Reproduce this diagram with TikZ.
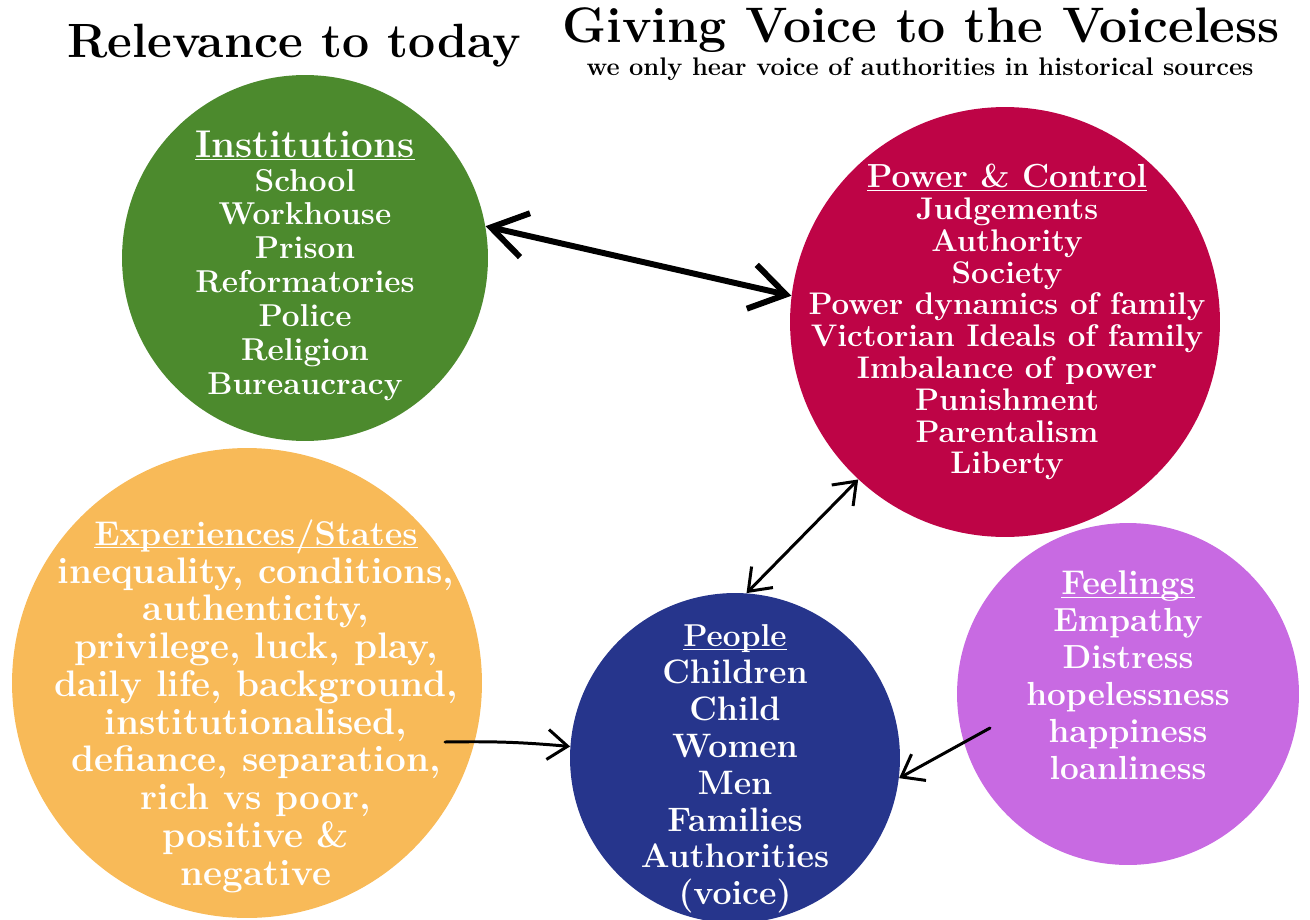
\documentclass[tikz,border=0pt]{standalone}
\usepackage{fontspec}
\usetikzlibrary{arrows.meta}

\definecolor{instgreen}{RGB}{76,138,45}
\definecolor{powerred}{RGB}{190,4,70}
\definecolor{experorange}{RGB}{248,186,88}
\definecolor{peopleblue}{RGB}{38,53,140}
\definecolor{feelpurple}{RGB}{200,106,226}

\newcommand{\bubblefont}[2]{\fontsize{#1}{#2}\selectfont\bfseries}
\newcommand{\bubblehead}[1]{\underline{\smash{#1}}}

\begin{document}
\begin{tikzpicture}[x=0.02cm, y=-0.02cm, line cap=round,
	bubble/.style={circle, fill=#1, inner sep=0pt},
	body/.style={text=white, align=center},
	title/.style={anchor=base, text=black},
	link/.style={black, line width=1.7pt},
	bigtip/.style={{Straight Barb[length=7mm,width=9mm]}-{Straight Barb[length=7mm,width=9mm]}},
	twoway/.style={{Straight Barb[length=4mm,width=6mm]}-{Straight Barb[length=4mm,width=6mm]}},
	oneway/.style={-{Straight Barb[length=4mm,width=6mm]}}]
	\useasboundingbox (0,0) rectangle (1310,919);

	% titles
	\node[title, font=\bubblefont{27.4}{30}] (relev) at (294,58) {Relevance to today};
	\node[title, font=\bubblefont{28.4}{30}] (giving) at (921,43) {Giving Voice to the Voiceless};
	\node[title, font=\bubblefont{14.5}{16}] (sources) at (920,75) {we only hear voice of authorities in historical sources};

	% circles
	\node[bubble=instgreen, minimum size=7.32cm] (inst) at (305,258) {};
	\node[bubble=powerred, minimum size=8.6cm] (power) at (1005,322) {};
	\node[bubble=experorange, minimum size=9.4cm] (exper) at (247,683) {};
	\node[bubble=peopleblue, minimum size=6.6cm] (people) at (735,758) {};
	\node[bubble=feelpurple, minimum size=6.84cm] (feel) at (1128,694) {};

	\node[body, font=\bubblefont{18}{19.3}] (insttext) at (305,279)
		{{\bubblefont{22}{24}\bubblehead{Institutions}}\\ School\\ Workhouse\\ Prison\\ Reformatories\\ Police\\ Religion\\ Bureaucracy};
	\node[body, font=\bubblefont{17.8}{18.1}] (powertext) at (1007,334)
		{{\bubblefont{19}{20}\bubblehead{Power \& Control}}\\ Judgements\\ Authority\\ Society\\ Power dynamics of family\\ Victorian Ideals of family\\ Imbalance of power\\ Punishment\\ Parentalism\\ Liberty};
	\node[body, font=\bubblefont{21}{21.5}] (expertext) at (256,719)
		{{\bubblefont{19.5}{21}\bubblehead{Experiences/States}}\\ inequality, conditions,\\ authenticity,\\ privilege, luck, play,\\ daily life, background,\\ institutionalised,\\ defiance, separation,\\ rich vs poor,\\ positive \&\\ negative};
	\node[body, font=\bubblefont{19.3}{21}] (peopletext) at (735,780)
		{{\bubblefont{18}{20}\bubblehead{People}}\\ Children\\ Child\\ Women\\ Men\\ Families\\ Authorities\\ (voice)};
	\node[body, font=\bubblefont{19}{21}] (feeltext) at (1128,687)
		{{\bubblefont{19.5}{21}\bubblehead{Feelings}}\\ Empathy\\ Distress\\ hopelessness\\ happiness\\ loanliness};

	% connectors
	\draw[link, line width=3.4pt, bigtip] (inst.10) -- (power.173);
	\draw[link, twoway] (people.86) -- (power.227);
	\coordinate (experstart) at (445,742);
	\draw[link, oneway] (experstart) to[bend left=3] (people.176);
	\coordinate (feelstart) at (990,728);
	\draw[link, oneway] (feelstart) -- (people.-7);
\end{tikzpicture}
\end{document}
